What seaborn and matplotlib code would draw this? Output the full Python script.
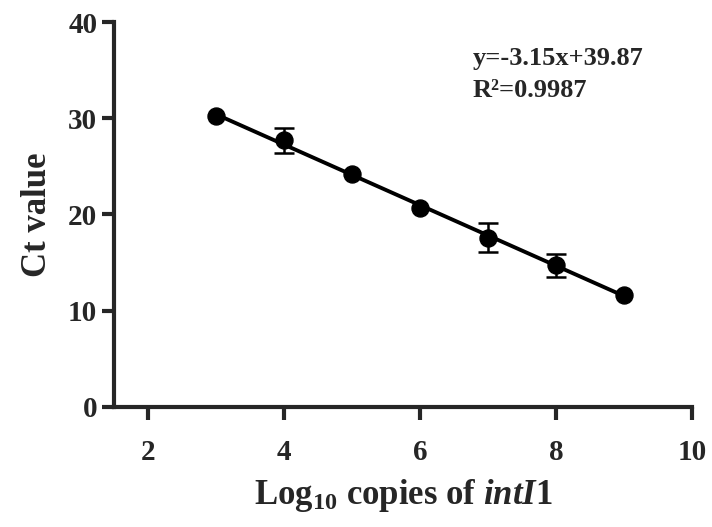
import numpy as np
import pandas as pd
import matplotlib
matplotlib.use('Agg')
import matplotlib.pyplot as plt
import seaborn as sns

log_copies = [3, 4, 5, 6, 7, 8, 9]
ct_mean = [30.2, 27.7, 24.2, 20.7, 17.6, 14.7, 11.6]
ct_sd = [0.0, 1.3, 0.0, 0.0, 1.5, 1.2, 0.0]
slope = -3.15
intercept = 39.87
r2 = 0.9987

sns.set_style('ticks')
plt.rcParams['font.family'] = ['Liberation Serif', 'DejaVu Serif']
plt.rcParams['font.weight'] = 'bold'
plt.rcParams['mathtext.fontset'] = 'custom'
plt.rcParams['mathtext.rm'] = 'Liberation Serif:bold'
plt.rcParams['mathtext.it'] = 'Liberation Serif:bold:italic'
plt.rcParams['mathtext.bf'] = 'Liberation Serif:bold'

df = pd.DataFrame({'x': log_copies, 'ct': ct_mean, 'sd': ct_sd})
bars = df[df['sd'] > 0]

fig, ax = plt.subplots(figsize=(7.12, 5.27), dpi=100)
fig.subplots_adjust(left=0.16, right=0.972, top=0.958, bottom=0.228)

fit_x = np.array([log_copies[0], log_copies[-1]])
sns.lineplot(x=fit_x, y=slope * fit_x + intercept, color='black', lw=2.8, ax=ax)
ax.errorbar(bars['x'], bars['ct'], yerr=bars['sd'], fmt='none', ecolor='black',
            elinewidth=1.8, capsize=7, capthick=1.8, zorder=3)
sns.scatterplot(data=df, x='x', y='ct', color='black', s=150, edgecolor='black',
                zorder=4, ax=ax)

ax.set_xlim(1.5, 10)
ax.set_ylim(0, 40)
ax.set_xticks([2, 4, 6, 8, 10])
ax.set_yticks([0, 10, 20, 30, 40])
for s in ['top', 'right']:
    ax.spines[s].set_visible(False)
for s in ['left', 'bottom']:
    ax.spines[s].set_linewidth(3)
ax.tick_params(width=3, length=9, labelsize=21, pad=14)
ax.tick_params(axis='y', pad=3)
for lab in ax.get_xticklabels() + ax.get_yticklabels():
    lab.set_fontweight('bold')

ax.set_xlabel(r'Log$_{10}$ copies of $\mathit{intI}$1', fontsize=25, fontweight='bold', labelpad=8)
ax.set_ylabel('Ct value', fontsize=25, fontweight='bold', labelpad=10)

ax.text(6.78, 36.2, f'y={slope}x+{intercept}', fontsize=19, fontweight='bold', va='center')
ax.text(6.78, 32.9, f'R\u00b2={r2}', fontsize=19, fontweight='bold', va='center')

fig.savefig('out.png', dpi=100)
